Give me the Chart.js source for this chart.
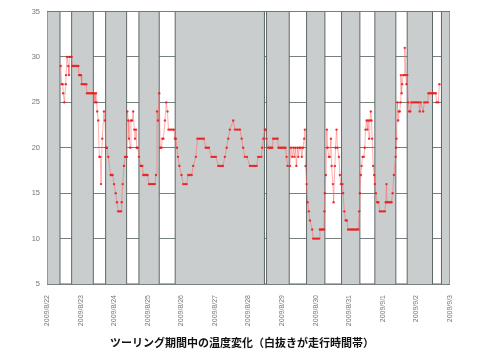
<!DOCTYPE html>
<html>
<head>
<meta charset="utf-8">
<script src="https://cdn.jsdelivr.net/npm/chart.js@4/dist/chart.umd.min.js"></script>
<style>
html,body{margin:0;padding:0;background:#fff;}
#wrap{width:480px;height:360px;}
</style>
</head>
<body>
<div id="wrap"><canvas id="c" width="480" height="360"></canvas></div>
<script>
// x values are hours since 2009/8/22 0:00
const dateLabels = ['2009/8/22','2009/8/23','2009/8/24','2009/8/25','2009/8/26','2009/8/27','2009/8/28','2009/8/29','2009/8/30','2009/8/31','2009/9/1','2009/9/2','2009/9/3'];
const yTicks = [5,10,15,20,25,30,35];
const chartTitle = 'ツーリング期間中の温度変化（白抜きが走行時間帯）';
// band edges (hours); segments alternate gray (not riding) / white (riding), starting gray
const bandEdges = [0,9.3,17.6,33.1,41.9,56.9,65.7,80.2,91.6,155.4,156.9,173.1,185.5,198.6,210.5,223.6,234.3,249.3,257.4,275.5,281.9,288];

const hours = [
9.8,10.5,11.2,11.6,12.4,13.4,13.6,14.3,15.2,15.7,15.9,16.8,17.6,18.1,19.2,20.3,21.4,22.4,22.9,23.6,
24.3,24.8,25.9,27.0,28.1,28.6,29.7,30.8,31.8,32.8,33.8,34.3,35.0,35.5,35.9,36.6,37.4,38.1,38.6,39.5,
40.7,41.4,42.1,42.9,43.8,45.5,46.2,46.9,47.9,49.1,50.0,50.9,51.9,52.9,53.4,54.1,55.0,55.7,56.4,57.1,
57.4,58.1,58.6,59.5,60.0,60.9,61.6,62.4,62.9,63.6,64.1,64.8,65.7,66.9,67.5,68.1,68.8,69.8,70.9,71.9,
72.9,73.9,75.0,76.0,77.1,77.9,78.6,79.3,80.2,80.9,81.8,82.4,83.2,84.3,85.2,86.1,86.8,87.8,88.8,89.8,
90.7,91.4,92.1,92.9,93.6,94.6,96.1,97.4,98.6,99.8,100.9,102.1,103.4,104.5,106.4,107.5,108.7,109.8,111.0,112.1,
113.4,114.5,115.7,117.6,118.6,119.7,120.7,122.4,123.5,124.6,125.7,127.1,128.4,129.5,130.7,133.1,134.3,135.5,136.7,137.9,
139.1,140.2,141.4,142.9,145.0,146.2,147.4,148.6,149.8,150.9,152.0,153.2,153.8,154.6,155.7,156.2,156.8,158.1,159.1,160.0,
161.0,161.6,162.7,163.8,164.8,165.4,166.4,167.4,168.4,169.5,170.5,171.2,171.9,173.6,174.3,175.2,176.1,176.8,177.5,178.2,
179.0,179.6,180.4,181.4,182.1,182.9,183.8,184.3,184.8,185.5,186.2,187.1,187.9,189.5,190.2,191.3,192.4,193.4,194.5,195.0,
196.0,197.0,197.9,198.2,198.6,199.3,200.0,200.5,201.4,202.1,202.9,203.4,204.3,204.8,205.7,206.2,206.9,207.6,208.6,209.3,
210.0,211.2,211.6,212.5,213.4,214.3,215.2,216.2,217.3,218.3,219.3,220.4,221.4,222.4,223.1,223.6,224.3,224.8,225.5,226.4,
227.1,227.6,228.4,228.9,229.5,230.2,230.7,231.4,231.9,232.4,233.1,233.8,234.3,235.0,235.9,236.8,237.9,239.0,240.2,241.4,
242.1,242.6,243.1,244.1,245.2,246.2,247.0,247.9,249.1,249.4,249.8,250.5,250.9,251.4,252.1,252.6,252.9,253.4,253.8,254.5,
255.2,255.7,256.4,256.9,257.5,258.1,258.8,259.6,260.4,261.5,262.6,263.6,264.6,265.7,266.4,267.1,268.8,269.6,270.8,272.1,
272.6,273.7,274.8,275.8,276.8,277.9,278.4,279.6,280.4
];
const temps = [
29,27,27,26,25,27,28,30,29,28,30,30,30,29,29,29,29,29,28,28,
28,27,27,27,27,26,26,26,26,26,26,25,26,25,24,23,19,19,16,21,
24,23,20,20,19,17,17,17,16,15,14,13,13,13,14,16,18,19,19,19,
24,23,21,20,23,23,24,22,21,22,20,20,19,18,18,18,17,17,17,17,
16,16,16,16,16,17,24,23,26,20,20,21,21,23,25,24,22,22,22,22,
22,21,21,20,19,18,17,16,16,16,17,17,17,18,19,21,21,21,21,21,
20,20,20,19,19,19,19,18,18,18,18,19,20,21,22,23,22,22,22,22,
21,20,19,19,18,18,18,18,18,19,19,19,20,21,22,22,21,20,20,20,
20,21,21,21,21,20,20,20,20,20,20,19,18,18,20,19,20,19,20,18,
20,19,20,20,19,20,21,22,18,16,14,13,12,11,10,10,10,10,10,11,
11,11,11,13,15,17,22,20,19,19,21,18,16,14,18,20,22,20,19,17,
16,16,15,13,12,12,11,11,11,11,11,11,11,11,13,15,17,18,19,19,
20,22,23,22,23,21,23,24,23,21,18,17,16,15,14,14,13,13,13,13,
14,16,14,14,14,14,15,17,19,20,21,25,23,24,24,25,28,26,27,28,
28,31,28,27,28,25,24,24,25,25,25,25,25,25,24,25,24,25,25,25,
26,26,26,26,26,26,25,25,27
];

const tempPoints = hours.map((h, i) => ({x: h, y: temps[i]}));
const bandPoints = [{x: bandEdges[0], y: yTicks[0]}];
for (let i = 0; i < bandEdges.length - 1; i++) {
  bandPoints.push({x: bandEdges[i], y: (i % 2 === 0) ? yTicks[yTicks.length-1] : yTicks[0]});
}
const lastIdx = bandEdges.length - 2;
bandPoints.push({x: bandEdges[bandEdges.length-1], y: (lastIdx % 2 === 0) ? yTicks[yTicks.length-1] : yTicks[0]});
bandPoints.push({x: bandEdges[bandEdges.length-1], y: yTicks[0]});

const bottomTitle = {
  id: 'bottomTitle',
  afterDraw(chart) {
    const ctx = chart.ctx;
    ctx.save();
    ctx.font = 'bold 11px "Noto Sans CJK JP"';
    ctx.fillStyle = '#111';
    ctx.textAlign = 'center';
    ctx.textBaseline = 'middle';
    ctx.fillText(chartTitle, 242, 343);
    ctx.restore();
  }
};

new Chart(document.getElementById('c'), {
  type: 'line',
  data: {
    datasets: [
      {
        data: tempPoints,
        order: 1,
        borderColor: 'rgba(255,95,95,0.5)',
        borderWidth: 1,
        pointRadius: 1.2,
        pointBorderWidth: 0,
        pointBackgroundColor: 'rgba(235,25,25,0.85)',
        tension: 0,
        fill: false
      },
      {
        data: bandPoints,
        order: 2,
        stepped: true,
        borderColor: '#5d6967',
        borderWidth: 1,
        backgroundColor: '#c9cdcd',
        fill: 'start',
        pointRadius: 0,
        tension: 0
      }
    ]
  },
  plugins: [bottomTitle],
  options: {
    responsive: false,
    animation: false,
    events: [],
    layout: { padding: { left: 0, right: 30, top: 10, bottom: 0 } },
    plugins: {
      legend: { display: false },
      tooltip: { enabled: false },
      title: { display: false }
    },
    scales: {
      x: {
        type: 'linear',
        min: 0,
        max: 288,
        grid: { display: false },
        border: { display: false },
        afterFit: (s) => { s.height = 76; },
        afterBuildTicks: (s) => { s.ticks = dateLabels.map((_, i) => ({ value: i * 24 })); },
        ticks: {
          autoSkip: false,
          minRotation: 90,
          maxRotation: 90,
          padding: 3,
          color: '#777',
          font: { family: '"Liberation Sans"', size: 7 },
          callback: (v) => dateLabels[Math.round(v / 24)]
        }
      },
      y: {
        min: 5,
        max: 35,
        z: 1,
        afterFit: (s) => { s.width = 47; },
        afterBuildTicks: (s) => { s.ticks = yTicks.map(v => ({ value: v })); },
        grid: { color: '#76807e', lineWidth: 1, drawTicks: false },
        border: { display: true, color: '#76807e' },
        ticks: {
          padding: 7,
          color: '#777',
          font: { family: '"Liberation Sans"', size: 7.5 }
        }
      }
    }
  }
});
</script>
</body>
</html>
